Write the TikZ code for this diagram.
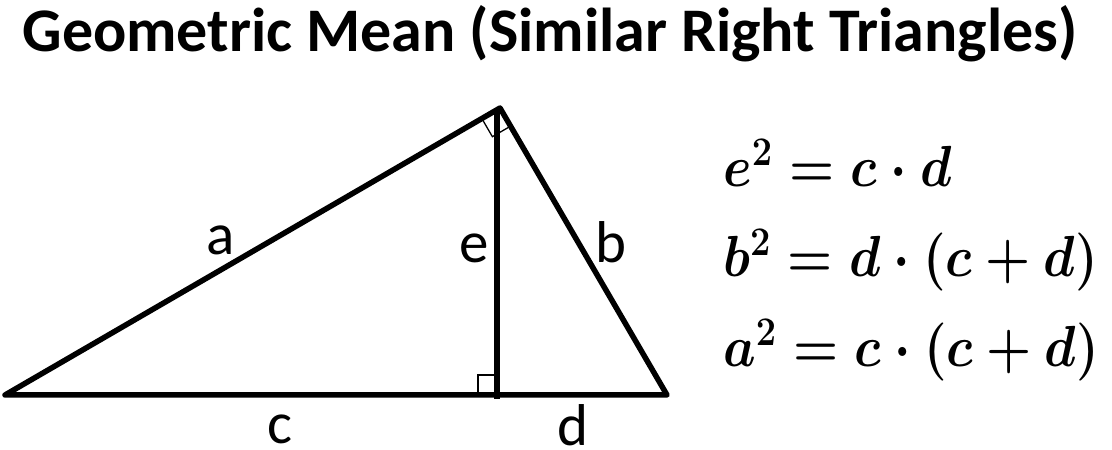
\RequirePackage{fix-cm}
\documentclass[tikz,border=0pt]{standalone}
\usepackage{amsmath}
\usepackage{bm}
\usepackage{graphicx}
\usepackage{fontspec}
\setmainfont{Carlito}
\usetikzlibrary{calc}
\tikzset{
  side/.style={line width=5.5pt, line join=round, line cap=round},
  altline/.style={line width=5.5pt},
  rmark/.style={line width=1.3pt},
  lbl/.style={anchor=base, inner sep=0pt, font=\fontsize{59}{66}\selectfont},
  eqn/.style={anchor=base west, inner sep=0pt, font=\fontsize{58}{66}\selectfont\boldmath},
  ttl/.style={anchor=base, inner sep=0pt, font=\fontsize{62}{72}\selectfont\bfseries}
}
\newcommand{\eqsq}[1]{\scalebox{0.89}[1]{#1}}
\begin{document}
\begin{tikzpicture}[x=1pt,y=1pt]
\useasboundingbox (0,0) rectangle (1112,450);
\node[ttl] (title) at (550,398) {Geometric Mean (Similar Right Triangles)};
\coordinate (L) at (5,55);
\coordinate (T) at (500,342);
\coordinate (R) at (667,55);
\coordinate (Ftop) at (497,340);
\coordinate (F) at (497,55);
\coordinate (Fbot) at (497,51);
% right angle marks
\coordinate (P1) at ($(T)!21pt!(L)$);
\coordinate (P2) at ($(T)!21pt!(R)$);
\draw[rmark] (P1) -- ($(P1)+(P2)-(T)$) -- (P2);
\draw[rmark] ($(F)+(0,20)$) -- ++(-19,0) -- ++(0,-20);
% triangle
\draw[side] (L) -- (T) -- (R) -- cycle;
\draw[altline] (Ftop) -- (Fbot);
% labels
\node[lbl] (la) at (221,195) {a};
\node[lbl] (le) at (474,187) {e};
\node[lbl] (lb) at (611,187) {b};
\node[lbl] (lc) at (280,6) {c};
\node[lbl] (ld) at (573,4) {d};
% equations
\node[eqn] (eq1) at (723,263) {\eqsq{$e^2 = c\cdot d$}};
\node[eqn] (eq2) at (723,173) {\eqsq{$b^2 = d\cdot (c+d)$}};
\node[eqn] (eq3) at (723,83) {\eqsq{$a^2 = c\cdot (c+d)$}};
\end{tikzpicture}
\end{document}
